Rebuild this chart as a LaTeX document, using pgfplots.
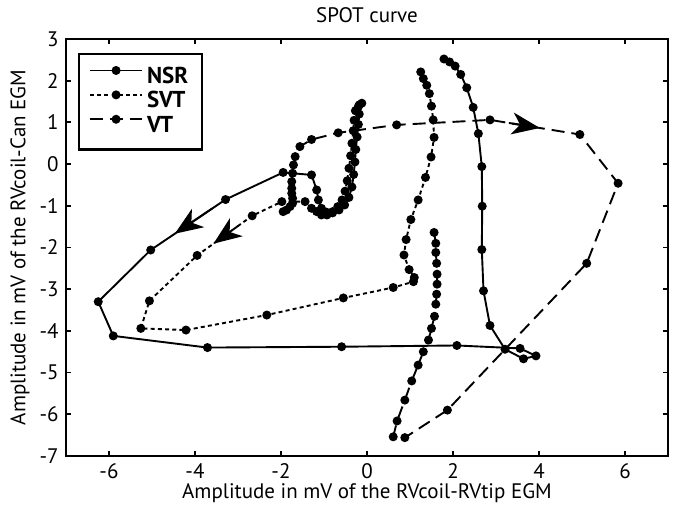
\documentclass[border=0pt]{standalone}
\usepackage{fontspec}
\setmainfont{PT Sans}
\usepackage{pgfplots}
\pgfplotsset{compat=1.18}
\usetikzlibrary{arrows.meta}

\pgfplotstableread{
x y
-0.12 1.46
-0.20 1.38
-0.18 1.20
-0.20 0.95
-0.23 0.65
-0.26 0.35
-0.28 0.05
-0.31 -0.25
-0.35 -0.55
-0.42 -0.80
-0.52 -0.98
-0.65 -1.10
-0.80 -1.17
-0.95 -1.15
-1.06 -1.06
-1.13 -0.86
-1.17 -0.62
-1.29 -0.26
-1.95 -0.20
-3.29 -0.85
-5.03 -2.06
-6.25 -3.30
-5.90 -4.12
-3.71 -4.40
-0.59 -4.38
2.09 -4.35
3.56 -4.42
3.93 -4.60
3.64 -4.67
3.21 -4.44
2.86 -3.87
2.71 -3.04
2.67 -2.05
2.68 -1.01
2.67 -0.06
2.59 0.73
2.47 1.36
2.32 1.83
2.18 2.15
2.05 2.35
1.92 2.45
1.79 2.52
}\nsr

\pgfplotstableread{
x y
-0.18 1.42
-0.27 1.28
-0.30 1.05
-0.32 0.80
-0.35 0.50
-0.38 0.20
-0.42 -0.10
-0.46 -0.40
-0.51 -0.65
-0.58 -0.86
-0.68 -1.02
-0.80 -1.14
-0.93 -1.22
-1.06 -1.22
-1.17 -1.14
-1.29 -1.06
-1.44 -0.90
-1.98 -0.90
-2.67 -1.24
-3.95 -2.19
-5.06 -3.28
-5.26 -3.94
-4.21 -3.98
-2.33 -3.62
-0.55 -3.21
0.61 -2.96
1.08 -2.82
1.10 -2.72
0.98 -2.53
0.86 -2.18
0.91 -1.81
1.02 -1.33
1.19 -0.86
1.36 -0.32
1.49 0.17
1.56 0.64
1.54 1.06
1.50 1.39
1.45 1.69
1.39 1.89
1.31 2.05
1.25 2.21
}\svt

\pgfplotstableread{
x y
1.56 -1.64
1.60 -1.90
1.60 -2.12
1.62 -2.38
1.63 -2.64
1.63 -2.88
1.62 -3.12
1.60 -3.36
1.57 -3.65
1.50 -3.94
1.43 -4.22
1.31 -4.50
1.19 -4.82
1.04 -5.20
0.88 -5.66
0.70 -6.16
0.61 -6.54
0.88 -6.56
1.87 -5.90
5.11 -2.38
5.84 -0.46
4.95 0.71
2.86 1.06
0.69 0.94
-0.67 0.75
-1.29 0.59
-1.56 0.42
-1.67 0.18
-1.71 -0.02
-1.73 -0.22
-1.75 -0.42
-1.75 -0.58
-1.75 -0.70
-1.73 -0.82
-1.73 -0.94
-1.79 -1.02
-1.87 -1.10
-1.95 -1.14
}\vt

\begin{document}
\fontsize{10.5}{12.5}\selectfont
\begin{tikzpicture}
\useasboundingbox (-33pt,-25pt) rectangle (305.5pt,228pt);
\begin{axis}[
  at={(0,0)}, anchor=south west,
  scale only axis, width=301pt, height=208.5pt,
  xmin=-7, xmax=7, ymin=-7, ymax=3,
  xtick={-6,-4,...,6}, ytick={-7,-6,...,3},
  tick pos=both, tick align=inside,
  major tick length=2.5pt,
  axis line style={line width=1.1pt},
  every tick/.style={black, line width=0.9pt},
  /pgf/number format/assume math mode=true,
  tick label style={font=\fontsize{10.5}{12.5}\selectfont},
  title={SPOT curve},
  title style={at={(axis description cs:0.5,1)}, anchor=center, yshift=6pt, font=\fontsize{10.5}{12.5}\selectfont},
  xlabel={Amplitude in mV of the RVcoil-RVtip EGM},
  xlabel style={at={(axis description cs:0.5,-0.0887)}, anchor=center, font=\fontsize{10.5}{12.5}\selectfont},
  ylabel={Amplitude in mV of the RVcoil-Can EGM},
  ylabel style={at={(axis description cs:-0.0764,0.5)}, anchor=center, font=\fontsize{10.5}{12.5}\selectfont},
  legend style={at={(0.02,0.966)}, anchor=north west, draw=black, line width=1.1pt,
    font=\bfseries\fontsize{11.5}{13.5}\selectfont, row sep=0pt, inner xsep=5pt, inner ysep=5.5pt,
    nodes={text height=8.5pt, text depth=2.5pt, inner ysep=0.6pt}},
  legend cell align=left,
  legend image code/.code={\draw[mark repeat=2,mark phase=2,#1] plot coordinates {(0pt,3.5pt)(13pt,3.5pt)(26pt,3.5pt)};},
]
\addplot[black, line width=0.95pt, mark=*, mark size=1.75pt, mark options={solid}] table {\nsr};
\addlegendentry{NSR}
\addplot[black, line width=0.95pt, dash pattern=on 2pt off 1.6pt, mark=*, mark size=1.75pt, mark options={solid}] table {\svt};
\addlegendentry{SVT}
\addplot[black, line width=0.95pt, dash pattern=on 6.5pt off 3.5pt, mark=*, mark size=1.75pt, mark options={solid}] table {\vt};
\addlegendentry{VT}
% arrow heads along the curves
\addplot[forget plot, black, line width=0.95pt, -{Stealth[length=14pt,width=11pt,inset=4pt]}] coordinates {(-3.60,-1.065) (-4.47,-1.67)};
\addplot[forget plot, black, line width=0.95pt, dash pattern=on 2pt off 1.6pt, -{Stealth[length=14pt,width=11pt,inset=4pt]}] coordinates {(-3.00,-1.485) (-3.57,-1.908)};
\addplot[forget plot, black, line width=0.95pt, dash pattern=on 6.5pt off 3.5pt, -{Stealth[length=14pt,width=11pt,inset=4pt]}] coordinates {(3.30,0.986) (4.02,0.866)};
\end{axis}
\end{tikzpicture}
\end{document}
